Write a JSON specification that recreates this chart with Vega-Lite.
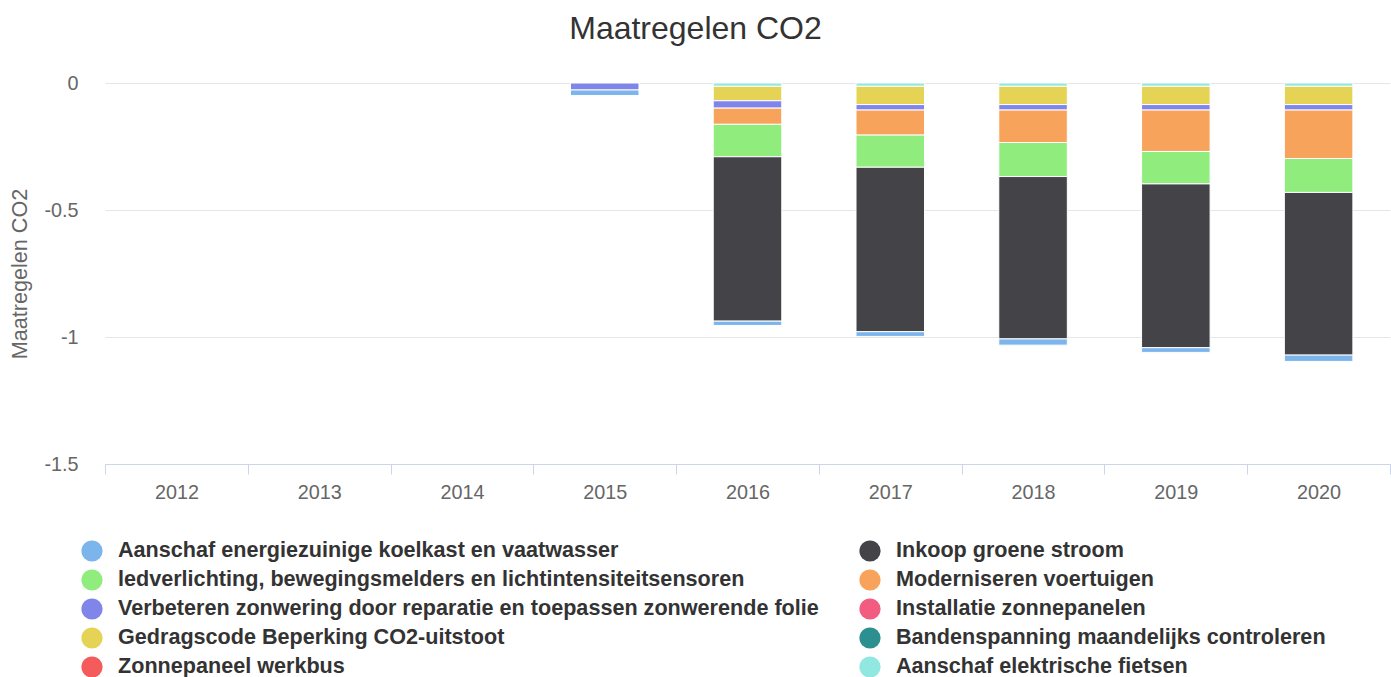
{
  "$schema": "https://vega.github.io/schema/vega-lite/v6.json",
  "width": 1285,
  "height": 381,
  "autosize": "none",
  "padding": {"left": 105, "top": 83, "right": 1, "bottom": 213},
  "background": "white",
  "config": {
    "font": "Liberation Sans",
    "view": {"stroke": null},
    "legend": {"gridAlign": "none"},
    "locale": {"number": {"decimal": ".", "thousands": ",", "grouping": [3], "currency": ["$", ""], "minus": "-"}}
  },
  "title": {
    "text": "Maatregelen CO2",
    "fontSize": 32,
    "fontWeight": "normal",
    "color": "#333333",
    "font": "Liberation Sans",
    "anchor": "middle",
    "dx": -52,
    "baseline": "alphabetic",
    "offset": 2
  },
  "datasets": {
    "reeksen": [
      {"serie": "Aanschaf elektrische fietsen", "volgorde": 1},
      {"serie": "Zonnepaneel werkbus", "volgorde": 2},
      {"serie": "Bandenspanning maandelijks controleren", "volgorde": 3},
      {"serie": "Gedragscode Beperking CO2-uitstoot", "volgorde": 4},
      {"serie": "Installatie zonnepanelen", "volgorde": 5},
      {"serie": "Verbeteren zonwering door reparatie en toepassen zonwerende folie", "volgorde": 6},
      {"serie": "Moderniseren voertuigen", "volgorde": 7},
      {"serie": "ledverlichting, bewegingsmelders en lichtintensiteitsensoren", "volgorde": 8},
      {"serie": "Inkoop groene stroom", "volgorde": 9},
      {"serie": "Aanschaf energiezuinige koelkast en vaatwasser", "volgorde": 10}
    ],
    "waarden": [
      {"jaar": "2015", "serie": "Verbeteren zonwering door reparatie en toepassen zonwerende folie", "co2": -0.0275},
      {"jaar": "2015", "serie": "Aanschaf energiezuinige koelkast en vaatwasser", "co2": -0.0216},
      {"jaar": "2016", "serie": "Aanschaf elektrische fietsen", "co2": -0.013},
      {"jaar": "2016", "serie": "Gedragscode Beperking CO2-uitstoot", "co2": -0.057},
      {"jaar": "2016", "serie": "Verbeteren zonwering door reparatie en toepassen zonwerende folie", "co2": -0.029},
      {"jaar": "2016", "serie": "Moderniseren voertuigen", "co2": -0.0637},
      {"jaar": "2016", "serie": "ledverlichting, bewegingsmelders en lichtintensiteitsensoren", "co2": -0.1277},
      {"jaar": "2016", "serie": "Inkoop groene stroom", "co2": -0.6472},
      {"jaar": "2016", "serie": "Aanschaf energiezuinige koelkast en vaatwasser", "co2": -0.0169},
      {"jaar": "2017", "serie": "Aanschaf elektrische fietsen", "co2": -0.013},
      {"jaar": "2017", "serie": "Gedragscode Beperking CO2-uitstoot", "co2": -0.072},
      {"jaar": "2017", "serie": "Verbeteren zonwering door reparatie en toepassen zonwerende folie", "co2": -0.0216},
      {"jaar": "2017", "serie": "Moderniseren voertuigen", "co2": -0.0986},
      {"jaar": "2017", "serie": "ledverlichting, bewegingsmelders en lichtintensiteitsensoren", "co2": -0.1265},
      {"jaar": "2017", "serie": "Inkoop groene stroom", "co2": -0.6475},
      {"jaar": "2017", "serie": "Aanschaf energiezuinige koelkast en vaatwasser", "co2": -0.0185},
      {"jaar": "2018", "serie": "Aanschaf elektrische fietsen", "co2": -0.013},
      {"jaar": "2018", "serie": "Gedragscode Beperking CO2-uitstoot", "co2": -0.072},
      {"jaar": "2018", "serie": "Verbeteren zonwering door reparatie en toepassen zonwerende folie", "co2": -0.0216},
      {"jaar": "2018", "serie": "Moderniseren voertuigen", "co2": -0.1277},
      {"jaar": "2018", "serie": "ledverlichting, bewegingsmelders en lichtintensiteitsensoren", "co2": -0.134},
      {"jaar": "2018", "serie": "Inkoop groene stroom", "co2": -0.6393},
      {"jaar": "2018", "serie": "Aanschaf energiezuinige koelkast en vaatwasser", "co2": -0.0244},
      {"jaar": "2019", "serie": "Aanschaf elektrische fietsen", "co2": -0.013},
      {"jaar": "2019", "serie": "Gedragscode Beperking CO2-uitstoot", "co2": -0.072},
      {"jaar": "2019", "serie": "Verbeteren zonwering door reparatie en toepassen zonwerende folie", "co2": -0.0216},
      {"jaar": "2019", "serie": "Moderniseren voertuigen", "co2": -0.163},
      {"jaar": "2019", "serie": "ledverlichting, bewegingsmelders en lichtintensiteitsensoren", "co2": -0.1277},
      {"jaar": "2019", "serie": "Inkoop groene stroom", "co2": -0.6448},
      {"jaar": "2019", "serie": "Aanschaf energiezuinige koelkast en vaatwasser", "co2": -0.0185},
      {"jaar": "2020", "serie": "Aanschaf elektrische fietsen", "co2": -0.013},
      {"jaar": "2020", "serie": "Gedragscode Beperking CO2-uitstoot", "co2": -0.072},
      {"jaar": "2020", "serie": "Verbeteren zonwering door reparatie en toepassen zonwerende folie", "co2": -0.0216},
      {"jaar": "2020", "serie": "Moderniseren voertuigen", "co2": -0.1906},
      {"jaar": "2020", "serie": "ledverlichting, bewegingsmelders en lichtintensiteitsensoren", "co2": -0.1336},
      {"jaar": "2020", "serie": "Inkoop groene stroom", "co2": -0.6405},
      {"jaar": "2020", "serie": "Aanschaf energiezuinige koelkast en vaatwasser", "co2": -0.0248}
    ]
  },
  "data": {"name": "waarden"},
  "transform": [
    {"lookup": "serie", "from": {"data": {"name": "reeksen"}, "key": "serie", "fields": ["volgorde"]}}
  ],
  "mark": {"type": "bar", "width": {"band": 0.48}, "stroke": "white", "strokeWidth": 1},
  "encoding": {
    "x": {
      "field": "jaar",
      "type": "nominal",
      "scale": {"domain": ["2012", "2013", "2014", "2015", "2016", "2017", "2018", "2019", "2020"], "paddingInner": 0, "paddingOuter": 0},
      "axis": {
        "title": null,
        "labelAngle": 0,
        "labelFontSize": 19.8,
        "labelColor": "#666666",
        "labelPadding": 8,
        "domainColor": "#ccd6eb",
        "tickColor": "#ccd6eb",
        "tickSize": 10,
        "tickBand": "extent",
        "grid": false
      }
    },
    "y": {
      "field": "co2",
      "type": "quantitative",
      "stack": "zero",
      "scale": {"domain": [-1.5, 0], "nice": false},
      "axis": {
        "title": "Maatregelen CO2",
        "titleFontSize": 21.6,
        "titleFontWeight": "normal",
        "titleColor": "#666666",
        "titlePadding": 12,
        "values": [0, -0.5, -1, -1.5],
        "format": "~g",
        "labelFontSize": 19.8,
        "labelColor": "#666666",
        "labelPadding": 27,
        "ticks": false,
        "domain": false,
        "grid": true,
        "gridColor": "#e6e6e6",
        "gridWidth": 1
      }
    },
    "order": {"field": "volgorde", "type": "quantitative", "sort": "ascending"},
    "color": {
      "field": "serie",
      "type": "nominal",
      "scale": {
        "domain": [
          "Aanschaf energiezuinige koelkast en vaatwasser",
          "Inkoop groene stroom",
          "ledverlichting, bewegingsmelders en lichtintensiteitsensoren",
          "Moderniseren voertuigen",
          "Verbeteren zonwering door reparatie en toepassen zonwerende folie",
          "Installatie zonnepanelen",
          "Gedragscode Beperking CO2-uitstoot",
          "Bandenspanning maandelijks controleren",
          "Zonnepaneel werkbus",
          "Aanschaf elektrische fietsen"
        ],
        "range": ["#7cb5ec", "#434348", "#90ed7d", "#f7a35c", "#8085e9", "#f15c80", "#e4d354", "#2b908f", "#f45b5b", "#91e8e1"]
      },
      "legend": {
        "title": null,
        "orient": "none",
        "legendX": -24,
        "legendY": 457,
        "direction": "horizontal",
        "columns": 2,
        "gridAlign": "none",
        "columnPadding": 40,
        "rowPadding": 7,
        "padding": 0,
        "symbolType": "circle",
        "symbolSize": 450,
        "symbolStrokeWidth": 0,
        "symbolOpacity": 1,
        "labelFontSize": 21.6,
        "labelFontWeight": "bold",
        "labelColor": "#333333",
        "labelOffset": 15,
        "labelLimit": 900
      }
    }
  }
}
